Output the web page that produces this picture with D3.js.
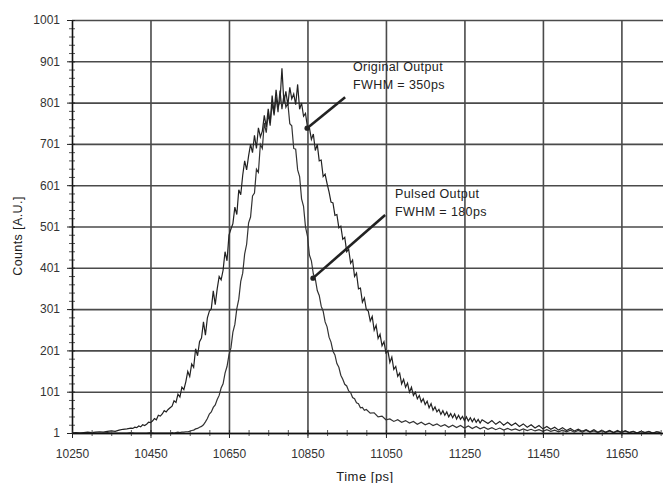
<!DOCTYPE html>
<html>
<head>
<meta charset="utf-8">
<script src="https://cdn.jsdelivr.net/npm/d3@7"></script>
<style>
	body { margin: 0; background: #fff; }
	svg { display: block; font-family: "Liberation Sans", Arial, sans-serif; }
	.tick text { fill: #333; }
</style>
</head>
<body>
<svg id="chart" width="663" height="483"></svg>
<script>
// tick labels
const xTickValues = [10250, 10450, 10650, 10850, 11050, 11250, 11450, 11650];
const yTickValues = [1, 101, 201, 301, 401, 501, 601, 701, 801, 901, 1001];

// Original output (broad), sampled at 10ps / 5ps / 10ps
const broadHead = [1, 2, 1, 2, 3, 2, 3, 4, 3, 5, 6, 5, 8, 10, 11];
const broadCore = [
	13, 12, 15, 14, 18, 16, 21, 19, 22, 27, 26, 30, 36, 33, 44, 42, 47, 55, 52, 58,
	62, 66, 79, 75, 95, 88, 112, 106, 125, 150, 138, 168, 160, 205, 188, 222, 231, 270, 238, 280,
	296, 302, 345, 312, 350, 380, 372, 395, 440, 418, 480, 495, 508, 548, 530, 590, 578, 625, 660, 638,
	672, 700, 680, 722, 690, 740, 718, 732, 770, 742, 786, 752, 818, 775, 832, 790, 805, 884, 800, 828,
	795, 838, 810, 822, 796, 845, 785, 800, 768, 775, 742, 740, 712, 725, 685, 700, 660, 662, 622, 628,
	605, 585, 560, 558, 528, 530, 498, 502, 470, 475, 440, 446, 412, 420, 380, 388, 350, 352, 318, 328,
	300, 296, 272, 283, 250, 262, 230, 240, 212, 222, 195, 200, 172, 185, 155, 162, 138, 146, 120, 131,
	112, 122, 100, 112, 92, 100, 84, 92, 76, 84, 70, 78, 62, 72, 56, 64, 52, 58, 46, 55,
	44, 52, 40, 48, 38, 47, 35, 44, 34, 41, 31, 40, 30, 38, 28, 36, 27, 34, 25, 33
];
const broadTail = [
	30, 24, 31, 22, 29, 20, 27, 19, 25, 17, 23, 15, 21, 13, 19, 11, 17, 10, 15, 8,
	14, 7, 12, 6, 10, 5, 9, 4, 9, 3, 8, 3, 7, 2, 7, 2, 6, 2, 5, 1, 5, 2, 5, 1, 4, 2
];

// Pulsed output (narrow)
const pulsedHead = [1, 1, 1, 1, 2, 1, 1, 1, 1, 2, 1, 1, 1, 1, 1, 2, 1, 1, 1, 1, 2, 1, 1, 1, 1];
const pulsedCore = [
	1, 2, 1, 2, 3, 2, 3, 3, 4, 4,
	5, 7, 8, 11, 12, 15, 17, 21, 28, 36,
	47, 52, 63, 69, 82, 92, 110, 120, 146, 162,
	190, 207, 245, 264, 302, 325, 368, 388, 435, 458,
	510, 524, 575, 582, 640, 632, 700, 690, 752, 728,
	775, 745, 800, 770, 815, 778, 830, 785, 820, 790,
	800, 750, 745, 690, 688, 638, 622, 568, 550, 500,
	478, 432, 418, 386, 374, 346, 334, 308, 296, 270,
	258, 233, 221, 199, 190, 169, 160, 141, 131, 119,
	115, 103, 99, 87, 84, 74, 72, 62, 63, 56
];
const pulsedTail = [
	58, 49, 50, 40, 42, 33, 35, 29, 33, 27,
	31, 25, 29, 22, 27, 21, 25, 19, 23, 17,
	21, 15, 20, 14, 19, 13, 18, 12, 17, 11,
	15, 10, 14, 9, 13, 8, 12, 8, 11, 7,
	11, 7, 10, 6, 9, 5, 9, 5, 8, 4,
	8, 4, 8, 3, 7, 3, 7, 3, 6, 2,
	6, 2, 6, 2, 5, 3, 6, 2, 5, 1,
	5, 2, 4, 1, 4, 2
];

const broadTimes = [...d3.range(10250, 10400, 10), ...d3.range(10400, 11300, 5), ...d3.range(11300, 11751, 10)];
const pulsedTimes = [...d3.range(10250, 10500, 10), ...d3.range(10500, 11000, 5), ...d3.range(11000, 11751, 10)];
const broadCounts = [...broadHead, ...broadCore, ...broadTail];
const pulsedCounts = [...pulsedHead, ...pulsedCore, ...pulsedTail];

const broad = broadTimes.map((t, i) => ({t: t, v: broadCounts[i]}));
const pulsed = pulsedTimes.map((t, i) => ({t: t, v: pulsedCounts[i]}));

const plotLeft = 72, plotRight = 663, plotTop = 20, plotBottom = 433;

const xScale = d3.scaleLinear().domain([10250, 11756]).range([plotLeft, plotRight]);
const yScale = d3.scaleLinear().domain([1, 1001]).range([plotBottom, plotTop]);

const svg = d3.select('#chart');

svg.append('defs').append('clipPath').attr('id', 'plot')
	.append('rect')
	.attr('x', plotLeft).attr('y', plotTop - 10)
	.attr('width', plotRight - plotLeft).attr('height', plotBottom - plotTop + 10);

// grid
svg.append('g')
	.attr('transform', `translate(${plotLeft},0)`)
	.call(d3.axisLeft(yScale).tickValues(yTickValues).tickSize(-(plotRight - plotLeft)).tickFormat(''))
	.call(g => g.select('.domain').remove())
	.call(g => g.selectAll('line').attr('stroke', '#4a4a4a').attr('stroke-width', 1.6));

svg.append('g')
	.attr('transform', `translate(0,${plotBottom})`)
	.call(d3.axisBottom(xScale).tickValues(xTickValues.slice(1)).tickSize(-(plotBottom - plotTop)).tickFormat(''))
	.call(g => g.select('.domain').remove())
	.call(g => g.selectAll('line').attr('stroke', '#4a4a4a').attr('stroke-width', 1.6));

// curves
const lineGenerator = d3.line()
	.x(d => xScale(d.t))
	.y(d => yScale(d.v));

const curves = svg.append('g').attr('clip-path', 'url(#plot)');

curves.append('path')
	.attr('d', lineGenerator(pulsed))
	.attr('fill', 'none')
	.attr('stroke', '#333')
	.attr('stroke-width', 1.2);

curves.append('path')
	.attr('d', lineGenerator(broad))
	.attr('fill', 'none')
	.attr('stroke', '#222')
	.attr('stroke-width', 1.2);

// axes
const yMinor = svg.append('g')
	.attr('transform', `translate(${plotLeft},0)`)
	.call(d3.axisLeft(yScale).tickValues(d3.range(1, 1002, 20)).tickSize(3).tickFormat(''));
yMinor.select('.domain').remove();
yMinor.selectAll('line').attr('x2', -3).attr('x1', 3).attr('stroke', '#555');

const yAxis = svg.append('g')
	.attr('transform', `translate(${plotLeft},0)`)
	.call(d3.axisLeft(yScale).tickValues(yTickValues).tickFormat(d3.format('d')).tickSize(5).tickPadding(7).tickSizeOuter(0));
yAxis.selectAll('line').attr('x1', 3).attr('stroke', '#222');
yAxis.select('.domain').attr('stroke', '#111').attr('stroke-width', 1.6);
yAxis.selectAll('text').attr('font-size', 12);

const xMinor = svg.append('g')
	.attr('transform', `translate(0,${plotBottom})`)
	.call(d3.axisBottom(xScale).tickValues(d3.range(10250, 11756, 50)).tickSize(3).tickFormat(''));
xMinor.select('.domain').remove();
xMinor.selectAll('line').attr('y1', -3).attr('stroke', '#555');

const xAxis = svg.append('g')
	.attr('transform', `translate(0,${plotBottom})`)
	.call(d3.axisBottom(xScale).tickValues(xTickValues).tickFormat(d3.format('d')).tickSize(5).tickPadding(11).tickSizeOuter(0));
xAxis.selectAll('line').attr('y1', -3).attr('stroke', '#222');
xAxis.select('.domain').attr('stroke', '#111').attr('stroke-width', 1.6);
xAxis.selectAll('text').attr('font-size', 12);

// axis titles
svg.append('text')
	.attr('transform', 'translate(22,236) rotate(-90)')
	.attr('text-anchor', 'middle')
	.attr('font-size', 12.5)
	.attr('letter-spacing', 0.4)
	.attr('fill', '#222')
	.text('Counts [A.U.]');

svg.append('text')
	.attr('x', 365).attr('y', 481)
	.attr('text-anchor', 'middle')
	.attr('font-size', 13)
	.attr('letter-spacing', 0.5)
	.attr('fill', '#222')
	.text('Time [ps]');

// annotations
const notes = [
	{lines: ['Original Output', 'FWHM = 350ps'], x: 353, y: 71, from: [10946, 814], to: [10849, 739]},
	{lines: ['Pulsed Output', 'FWHM = 180ps'], x: 395, y: 198, from: [11048, 529], to: [10864, 376]}
];

notes.forEach(n => {
	svg.append('line')
		.attr('x1', xScale(n.from[0])).attr('y1', yScale(n.from[1]))
		.attr('x2', xScale(n.to[0])).attr('y2', yScale(n.to[1]))
		.attr('stroke', '#222')
		.attr('stroke-width', 2.6);
	svg.append('circle')
		.attr('cx', xScale(n.to[0])).attr('cy', yScale(n.to[1]))
		.attr('r', 2.6)
		.attr('fill', '#222');
	svg.append('text')
		.attr('x', n.x).attr('y', n.y)
		.attr('font-size', 12.5)
		.attr('letter-spacing', 0.4)
		.attr('fill', '#222')
		.selectAll('tspan')
		.data(n.lines)
		.join('tspan')
		.attr('x', n.x)
		.attr('dy', (d, i) => i === 0 ? 0 : 18)
		.text(d => d);
});
</script>
</body>
</html>
